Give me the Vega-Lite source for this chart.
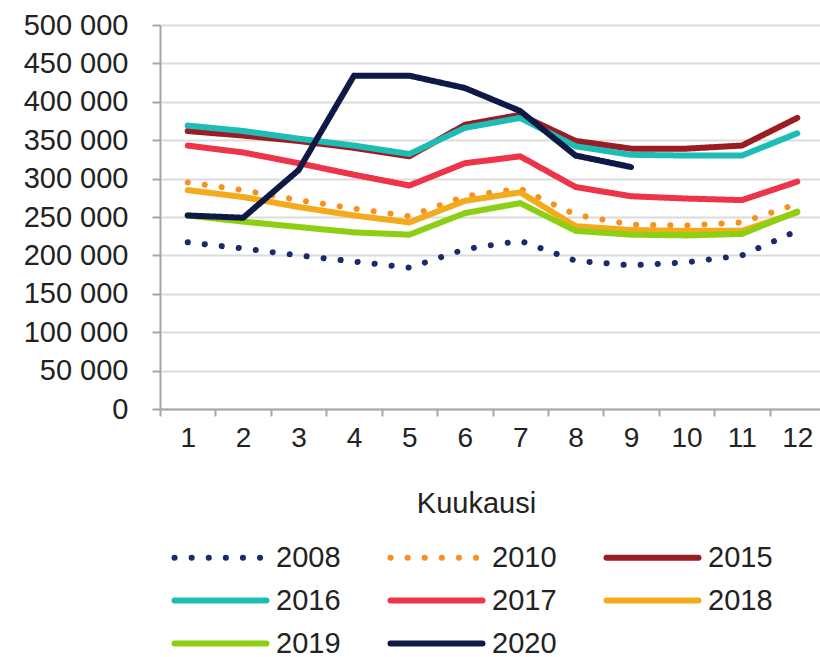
{
  "$schema": "https://vega.github.io/schema/vega-lite/v6.json",
  "autosize": {"type": "none"},
  "padding": {"left": 160, "top": 25, "right": 0, "bottom": 248},
  "width": 665,
  "height": 384,
  "background": "white",
  "config": {
    "view": {"stroke": null},
    "locale": {"number": {"decimal": ",", "thousands": " ", "grouping": [3], "currency": ["", " €"]}},
    "font": "Liberation Sans"
  },
  "data": {
    "values": [
      {"year": "2008", "month": 1, "value": 217000},
      {"year": "2008", "month": 2, "value": 209000},
      {"year": "2008", "month": 3, "value": 200000},
      {"year": "2008", "month": 4, "value": 192000},
      {"year": "2008", "month": 5, "value": 184000},
      {"year": "2008", "month": 6, "value": 208000},
      {"year": "2008", "month": 7, "value": 219000},
      {"year": "2008", "month": 8, "value": 193000},
      {"year": "2008", "month": 9, "value": 187000},
      {"year": "2008", "month": 10, "value": 191000},
      {"year": "2008", "month": 11, "value": 200000},
      {"year": "2008", "month": 12, "value": 232000},
      {"year": "2010", "month": 1, "value": 295000},
      {"year": "2010", "month": 2, "value": 285000},
      {"year": "2010", "month": 3, "value": 272000},
      {"year": "2010", "month": 4, "value": 261000},
      {"year": "2010", "month": 5, "value": 251000},
      {"year": "2010", "month": 6, "value": 277000},
      {"year": "2010", "month": 7, "value": 287000},
      {"year": "2010", "month": 8, "value": 253000},
      {"year": "2010", "month": 9, "value": 240000},
      {"year": "2010", "month": 10, "value": 239000},
      {"year": "2010", "month": 11, "value": 243000},
      {"year": "2010", "month": 12, "value": 267000},
      {"year": "2015", "month": 1, "value": 362000},
      {"year": "2015", "month": 2, "value": 356000},
      {"year": "2015", "month": 3, "value": 349000},
      {"year": "2015", "month": 4, "value": 340000},
      {"year": "2015", "month": 5, "value": 329000},
      {"year": "2015", "month": 6, "value": 370000},
      {"year": "2015", "month": 7, "value": 383000},
      {"year": "2015", "month": 8, "value": 349000},
      {"year": "2015", "month": 9, "value": 339000},
      {"year": "2015", "month": 10, "value": 339000},
      {"year": "2015", "month": 11, "value": 343000},
      {"year": "2015", "month": 12, "value": 379000},
      {"year": "2016", "month": 1, "value": 369000},
      {"year": "2016", "month": 2, "value": 362000},
      {"year": "2016", "month": 3, "value": 352000},
      {"year": "2016", "month": 4, "value": 343000},
      {"year": "2016", "month": 5, "value": 332000},
      {"year": "2016", "month": 6, "value": 366000},
      {"year": "2016", "month": 7, "value": 379000},
      {"year": "2016", "month": 8, "value": 342000},
      {"year": "2016", "month": 9, "value": 331000},
      {"year": "2016", "month": 10, "value": 330000},
      {"year": "2016", "month": 11, "value": 330000},
      {"year": "2016", "month": 12, "value": 359000},
      {"year": "2017", "month": 1, "value": 343000},
      {"year": "2017", "month": 2, "value": 334000},
      {"year": "2017", "month": 3, "value": 320000},
      {"year": "2017", "month": 4, "value": 305000},
      {"year": "2017", "month": 5, "value": 291000},
      {"year": "2017", "month": 6, "value": 320000},
      {"year": "2017", "month": 7, "value": 329000},
      {"year": "2017", "month": 8, "value": 289000},
      {"year": "2017", "month": 9, "value": 277000},
      {"year": "2017", "month": 10, "value": 274000},
      {"year": "2017", "month": 11, "value": 272000},
      {"year": "2017", "month": 12, "value": 296000},
      {"year": "2018", "month": 1, "value": 285000},
      {"year": "2018", "month": 2, "value": 276000},
      {"year": "2018", "month": 3, "value": 263000},
      {"year": "2018", "month": 4, "value": 252000},
      {"year": "2018", "month": 5, "value": 243000},
      {"year": "2018", "month": 6, "value": 271000},
      {"year": "2018", "month": 7, "value": 282000},
      {"year": "2018", "month": 8, "value": 238000},
      {"year": "2018", "month": 9, "value": 233000},
      {"year": "2018", "month": 10, "value": 232000},
      {"year": "2018", "month": 11, "value": 232000},
      {"year": "2018", "month": 12, "value": 256000},
      {"year": "2019", "month": 1, "value": 252000},
      {"year": "2019", "month": 2, "value": 244000},
      {"year": "2019", "month": 3, "value": 237000},
      {"year": "2019", "month": 4, "value": 230000},
      {"year": "2019", "month": 5, "value": 227000},
      {"year": "2019", "month": 6, "value": 255000},
      {"year": "2019", "month": 7, "value": 268000},
      {"year": "2019", "month": 8, "value": 232000},
      {"year": "2019", "month": 9, "value": 227000},
      {"year": "2019", "month": 10, "value": 226000},
      {"year": "2019", "month": 11, "value": 228000},
      {"year": "2019", "month": 12, "value": 257000},
      {"year": "2020", "month": 1, "value": 252000},
      {"year": "2020", "month": 2, "value": 249000},
      {"year": "2020", "month": 3, "value": 311000},
      {"year": "2020", "month": 4, "value": 434000},
      {"year": "2020", "month": 5, "value": 434000},
      {"year": "2020", "month": 6, "value": 418000},
      {"year": "2020", "month": 7, "value": 388000},
      {"year": "2020", "month": 8, "value": 330000},
      {"year": "2020", "month": 9, "value": 315000}
    ]
  },
  "mark": {"type": "line", "strokeWidth": 6, "strokeCap": "round", "strokeJoin": "round"},
  "encoding": {
    "x": {
      "field": "month",
      "type": "ordinal",
      "scale": {"paddingInner": 0, "paddingOuter": 0},
      "axis": {
        "title": "Kuukausi",
        "labelAngle": 0,
        "tickBand": "extent",
        "grid": false,
        "domainColor": "#a6a6a6",
        "domainWidth": 2,
        "tickColor": "#a6a6a6",
        "tickWidth": 2,
        "tickSize": 7,
        "labelFont": "Liberation Sans",
        "labelFontSize": 28,
        "labelColor": "#222222",
        "labelPadding": 8,
        "titleFont": "Liberation Sans",
        "titleFontSize": 29,
        "titleFontWeight": "normal",
        "titleColor": "#222222",
        "titleX": 316,
        "titleY": 94,
        "titleBaseline": "middle"
      }
    },
    "y": {
      "field": "value",
      "type": "quantitative",
      "scale": {"domain": [0, 500000], "nice": false},
      "axis": {
        "title": null,
        "values": [0, 50000, 100000, 150000, 200000, 250000, 300000, 350000, 400000, 450000, 500000],
        "format": ",.0f",
        "domainColor": "#a6a6a6",
        "domainWidth": 2,
        "tickColor": "#a6a6a6",
        "tickWidth": 2,
        "tickSize": 8,
        "gridColor": "#dcdcdc",
        "gridWidth": 2,
        "labelFont": "Liberation Sans",
        "labelFontSize": 29,
        "labelColor": "#222222",
        "labelPadding": 24
      }
    },
    "color": {
      "field": "year",
      "type": "nominal",
      "scale": {
        "domain": ["2008", "2010", "2015", "2016", "2017", "2018", "2019", "2020"],
        "range": ["#1b2a6b", "#f7901e", "#9c1c23", "#1dbdb5", "#ee3448", "#f3aa1c", "#8dcf12", "#0e1a45"]
      },
      "legend": {
        "title": null,
        "orient": "none",
        "direction": "horizontal",
        "legendX": 6,
        "legendY": 518,
        "columns": 3,
        "columnPadding": 37,
        "rowPadding": 13,
        "symbolType": "M-0.6,0H8.6",
        "symbolSize": 400,
        "symbolStrokeWidth": 6,
        "labelFont": "Liberation Sans",
        "labelFontSize": 29,
        "labelColor": "#222222",
        "labelOffset": 81,
        "encoding": {"symbols": {"strokeCap": {"value": "round"}}}
      }
    },
    "strokeDash": {
      "field": "year",
      "type": "nominal",
      "scale": {
        "domain": ["2008", "2010", "2015", "2016", "2017", "2018", "2019", "2020"],
        "range": [[0.1, 17], [0.1, 17], [1, 0], [1, 0], [1, 0], [1, 0], [1, 0], [1, 0]]
      },
      "legend": null
    }
  }
}
